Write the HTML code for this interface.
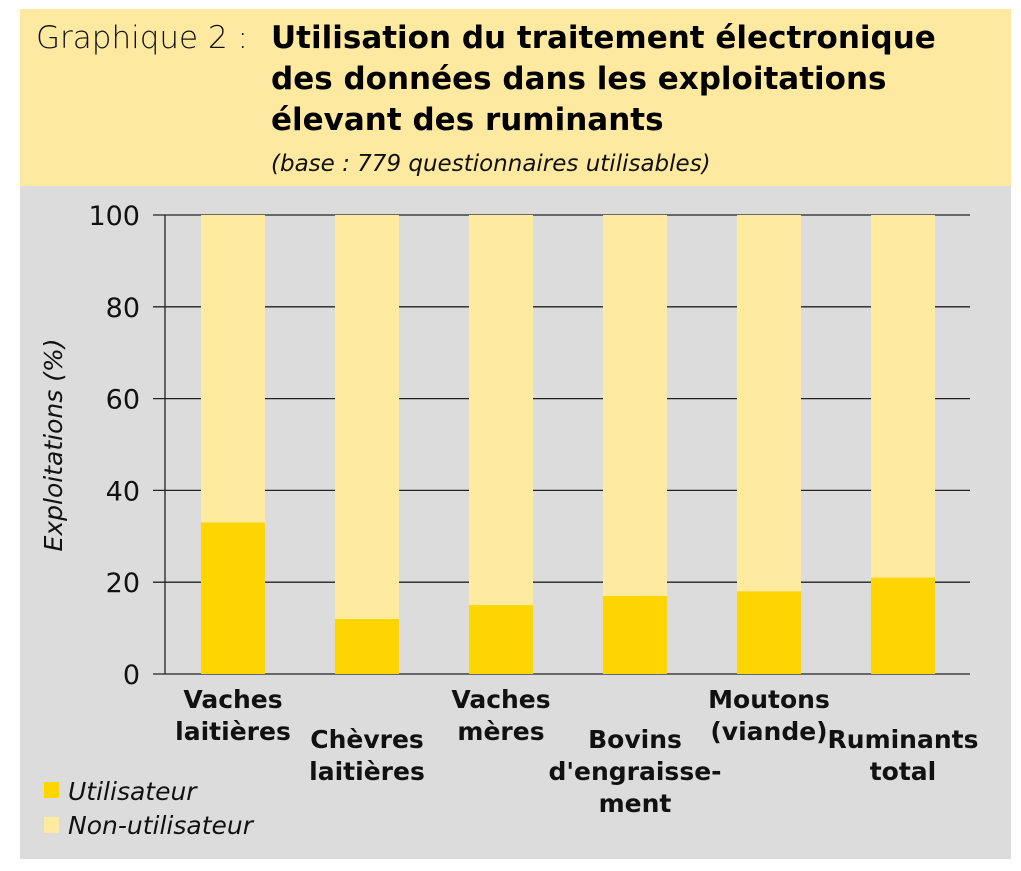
<!DOCTYPE html>
<html><head><meta charset="utf-8"><style>
body{margin:0;background:#fff;width:1021px;height:867px;overflow:hidden;font-family:"DejaVu Sans","Liberation Sans",sans-serif}
</style></head><body>
<svg width="1021" height="867" xmlns="http://www.w3.org/2000/svg">
<rect x="20" y="9" width="991" height="177" fill="#FEE9A0"/>
<rect x="20" y="186" width="991" height="673" fill="#DCDCDC"/>
<text x="36" y="48" font-size="31" fill="#111" font-family="DejaVu Sans, sans-serif" font-weight="300">Graphique 2 :</text>
<g font-weight="bold" font-size="31" fill="#000">
<text x="271" y="48">Utilisation du traitement électronique</text>
<text x="271" y="89">des données dans les exploitations</text>
<text x="271" y="130">élevant des ruminants</text>
</g>
<text x="271" y="171" font-size="23" font-style="italic" fill="#111">(base : 779 questionnaires utilisables)</text>
<g id="grid"></g>
<g id="bars"></g>
<g id="axis"></g>
<text transform="translate(62,445) rotate(-90)" text-anchor="middle" font-size="25" font-style="italic" fill="#111">Exploitations (%)</text>
<g id="xlabels" font-weight="bold" font-size="25" fill="#111" text-anchor="middle"></g>
<rect x="44" y="782" width="15" height="16" fill="#FFD500"/>
<text x="68" y="800" font-size="25" font-style="italic" fill="#111">Utilisateur</text>
<rect x="44" y="817" width="15" height="16" fill="#FFEBA0"/>
<text x="68" y="834" font-size="25" font-style="italic" fill="#111">Non-utilisateur</text>
</svg>
<script>
const categories=[["Vaches","laitières"],["Chèvres","laitières"],["Vaches","mères"],["Bovins","d'engraisse-","ment"],["Moutons","(viande)"],["Ruminants","total"]];
const labelOffsets=[0,1,0,1,0,1];
const utilisateur=[33,12,15,17,18,21];
const nonUtilisateur=[67,88,85,83,82,79];
const yTicks=[0,20,40,60,80,100];
const NS="http://www.w3.org/2000/svg";
const y=v=>674-v*4.59;
const xc=i=>233+i*134;
function mk(tag,attrs,parent,text){const e=document.createElementNS(NS,tag);for(const k in attrs)e.setAttribute(k,attrs[k]);if(text!=null)e.textContent=text;parent.appendChild(e);return e;}
const grid=document.getElementById('grid'),bars=document.getElementById('bars'),axis=document.getElementById('axis'),xl=document.getElementById('xlabels');
yTicks.forEach(t=>{
 const l=mk('line',{x1:153,x2:t===0?970:970,y1:y(t),y2:y(t),stroke:'#222','stroke-width':1.3},grid);
 
 
 const tx=mk('text',{x:140,y:y(t)+10,'text-anchor':'end','font-size':27,fill:'#111'},grid,String(t));
 
 
});
utilisateur.forEach((v,i)=>{
 const n=nonUtilisateur[i];
 const r2=mk('rect',{x:xc(i)-32,y:y(v+n),width:64,height:y(v)-y(v+n),fill:'#FFEBA0'},bars);
 
 
 const r1=mk('rect',{x:xc(i)-32,y:y(v),width:64,height:y(0)-y(v),fill:'#FFD500'},bars);
 
 
 const g=mk('g',{},xl);
 
 
 categories[i].forEach((s,j)=>mk('text',{x:xc(i),y:708+labelOffsets[i]*40+j*32},g,s));
});
const ax=mk('line',{x1:165,x2:165,y1:y(100),y2:y(0),stroke:'#222','stroke-width':1.3},axis);


</script>
</body></html>
